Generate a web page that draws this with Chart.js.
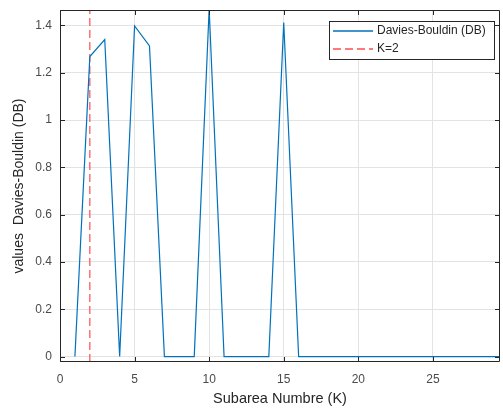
<!DOCTYPE html>
<html>
<head>
<meta charset="utf-8">
<script src="https://cdn.jsdelivr.net/npm/chart.js@4/dist/chart.umd.min.js"></script>
<style>
  html, body { margin: 0; padding: 0; background: #fff; }
  #wrap { width: 503px; height: 412px; }
</style>
</head>
<body>
<div id="wrap"><canvas id="chart" width="503" height="412"></canvas></div>
<script>
'use strict';

// subarea count K and the Davies-Bouldin index for each one
var kValues = [1, 2, 3, 4, 5, 6, 7, 8, 9, 10, 11, 12, 13, 14, 15, 16, 17, 18, 19, 20,
               21, 22, 23, 24, 25, 26, 27, 28, 29, 30];
var dbValues = [0, 1.268, 1.34, 0, 1.398, 1.313, 0, 0, 0, 1.47, 0, 0, 0, 0, 1.412, 0, 0, 0, 0, 0,
                0, 0, 0, 0, 0, 0, 0, 0, 0, 0];
var chosenK = 2;
var xTicks = [0, 5, 10, 15, 20, 25];
var yTicks = [0, 0.2, 0.4, 0.6, 0.8, 1, 1.2, 1.4];

var xMin = 0, xMax = 29.5;
var yMin = -0.023, yMax = 1.465;

var lineBlue = '#0072BD';
var lineRed = '#ff4d4d';
var axisColor = '#262626';
var labelColor = '#4a4a4a';
var font = '"Liberation Sans", Arial, Helvetica, sans-serif';

var dbPoints = kValues.map(function (k, i) { return { x: k, y: dbValues[i] }; });

// MATLAB-style box with inward ticks
var boxTicks = {
    id: 'boxTicks',
    afterDraw: function (chart) {
        var ctx = chart.ctx, a = chart.chartArea;
        var xs = chart.scales.x, ys = chart.scales.y;
        ctx.save();
        ctx.strokeStyle = axisColor;
        ctx.lineWidth = 1;
        ctx.beginPath();
        ctx.rect(a.left + 0.5, a.top + 0.5, a.right - a.left - 1, a.bottom - a.top - 1);
        ctx.stroke();
        ctx.beginPath();
        xTicks.forEach(function (t) {
            var px = Math.round(xs.getPixelForValue(t)) + 0.5;
            ctx.moveTo(px, a.bottom); ctx.lineTo(px, a.bottom - 5);
            ctx.moveTo(px, a.top); ctx.lineTo(px, a.top + 5);
        });
        yTicks.forEach(function (t) {
            var py = Math.round(ys.getPixelForValue(t)) + 0.5;
            ctx.moveTo(a.left, py); ctx.lineTo(a.left + 5, py);
            ctx.moveTo(a.right, py); ctx.lineTo(a.right - 5, py);
        });
        ctx.stroke();
        ctx.restore();
    }
};

// legend box in the upper right corner
var boxLegend = {
    id: 'boxLegend',
    afterDraw: function (chart) {
        var ctx = chart.ctx;
        var x0 = 329, y0 = 21, w = 165, h = 38;
        var items = [
            { label: chart.data.datasets[0].label, color: lineBlue, dash: [] },
            { label: chart.data.datasets[1].label, color: lineRed, dash: [8, 4] }
        ];
        ctx.save();
        ctx.fillStyle = '#fff';
        ctx.fillRect(x0, y0, w, h);
        ctx.strokeStyle = axisColor;
        ctx.lineWidth = 1;
        ctx.strokeRect(x0 + 0.5, y0 + 0.5, w, h);
        ctx.font = '12px ' + font;
        ctx.textBaseline = 'middle';
        items.forEach(function (it, i) {
            var y = y0 + 10 + i * 18;
            ctx.strokeStyle = it.color;
            ctx.lineWidth = 1.5;
            ctx.setLineDash(it.dash);
            ctx.beginPath();
            ctx.moveTo(x0 + 4, y); ctx.lineTo(x0 + 44, y);
            ctx.stroke();
            ctx.setLineDash([]);
            ctx.fillStyle = axisColor;
            ctx.fillText(it.label, x0 + 48, y);
        });
        ctx.restore();
    }
};

new Chart(document.getElementById('chart'), {
    type: 'line',
    data: {
        datasets: [{
            label: 'Davies-Bouldin (DB)',
            data: dbPoints,
            borderColor: lineBlue,
            borderWidth: 1.2,
            pointRadius: 0,
            tension: 0
        }, {
            label: 'K=' + chosenK,
            data: [{ x: chosenK, y: yMin }, { x: chosenK, y: yMax }],
            borderColor: lineRed,
            borderWidth: 1.2,
            borderDash: [8, 4],
            pointRadius: 0
        }]
    },
    options: {
        responsive: false,
        animation: false,
        layout: { padding: { top: 10, right: 3, left: 0, bottom: 0 } },
        plugins: {
            legend: { display: false },
            tooltip: { enabled: false }
        },
        scales: {
            x: {
                type: 'linear',
                min: xMin,
                max: xMax,
                afterBuildTicks: function (s) { s.ticks = xTicks.map(function (v) { return { value: v }; }); },
                afterFit: function (s) { s.height = 50; s.paddingLeft = 0; s.paddingRight = 0; },
                grid: { color: '#e3e3e3', drawTicks: false },
                border: { display: false },
                ticks: {
                    color: labelColor, padding: 10, font: { size: 12, family: font },
                    callback: function (v) { return String(v); }
                },
                title: {
                    display: true,
                    text: 'Subarea Numbre (K)',
                    color: axisColor,
                    padding: { top: 0, bottom: 4 },
                    font: { size: 14.5, family: font }
                }
            },
            y: {
                min: yMin,
                max: yMax,
                afterBuildTicks: function (s) { s.ticks = yTicks.map(function (v) { return { value: v }; }); },
                afterFit: function (s) { s.width = 60; s.paddingTop = 0; s.paddingBottom = 0; },
                grid: { color: '#e3e3e3', drawTicks: false },
                border: { display: false },
                ticks: {
                    color: labelColor, padding: 8, font: { size: 12, family: font },
                    callback: function (v) { return String(Math.round(v * 10) / 10); }
                },
                title: {
                    display: true,
                    text: 'values  Davies-Bouldin (DB)',
                    color: axisColor,
                    padding: { top: 11, bottom: 0 },
                    font: { size: 14, family: font }
                }
            }
        }
    },
    plugins: [boxTicks, boxLegend]
});
</script>
</body>
</html>
